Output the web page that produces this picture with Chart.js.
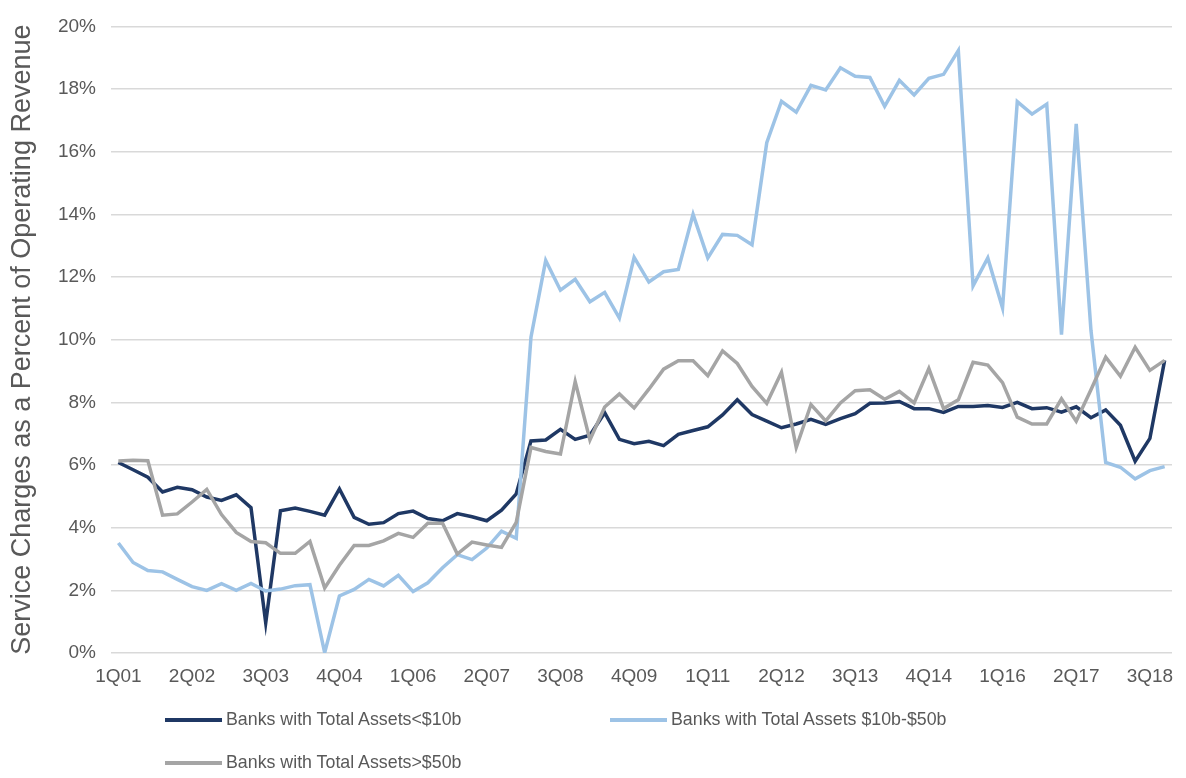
<!DOCTYPE html>
<html>
<head>
<meta charset="utf-8">
<script src="https://cdn.jsdelivr.net/npm/chart.js@4/dist/chart.umd.min.js"></script>
<style>
  html, body { margin: 0; padding: 0; background: #fff; }
  #wrap { position: relative; width: 1186px; height: 778px; }
  #chart { position: absolute; left: 0; top: 0; }
  .lg { position: absolute; display: flex; align-items: center;
        font-family: "Liberation Sans", Arial, sans-serif; font-size: 17.8px; color: #595959; }
  .lg span.sw { display: inline-block; width: 57px; height: 4px; margin-right: 4px; }
</style>
</head>
<body>
<div id="wrap">
  <canvas id="chart" width="1186" height="778"></canvas>
</div>
<script>
// ===== Data =====
const quarters = [
  '1Q01','2Q01','3Q01','4Q01','1Q02','2Q02','3Q02','4Q02','1Q03','2Q03','3Q03','4Q03',
  '1Q04','2Q04','3Q04','4Q04','1Q05','2Q05','3Q05','4Q05','1Q06','2Q06','3Q06','4Q06',
  '1Q07','2Q07','3Q07','4Q07','1Q08','2Q08','3Q08','4Q08','1Q09','2Q09','3Q09','4Q09',
  '1Q10','2Q10','3Q10','4Q10','1Q11','2Q11','3Q11','4Q11','1Q12','2Q12','3Q12','4Q12',
  '1Q13','2Q13','3Q13','4Q13','1Q14','2Q14','3Q14','4Q14','1Q15','2Q15','3Q15','4Q15',
  '1Q16','2Q16','3Q16','4Q16','1Q17','2Q17','3Q17','4Q17','1Q18','2Q18','3Q18','4Q18'
];

const smallBanks = [
  6.08, 5.85, 5.61, 5.14, 5.29, 5.21, 4.98, 4.87, 5.05, 4.64,
  0.96, 4.54, 4.63, 4.52, 4.40, 5.24, 4.33, 4.11, 4.16, 4.45,
  4.53, 4.29, 4.22, 4.45, 4.35, 4.22, 4.56, 5.08, 6.77, 6.80,
  7.14, 6.82, 6.95, 7.67, 6.82, 6.68, 6.76, 6.62, 6.98, 7.10,
  7.22, 7.60, 8.08, 7.61, 7.40, 7.19, 7.31, 7.46, 7.30, 7.48,
  7.64, 7.97, 7.98, 8.03, 7.80, 7.80, 7.68, 7.87, 7.87, 7.90,
  7.84, 8.00, 7.80, 7.83, 7.69, 7.86, 7.51, 7.76, 7.27, 6.12,
  6.85, 9.34
];

const midBanks = [
  3.51, 2.89, 2.63, 2.59, 2.35, 2.12, 2.00, 2.21, 2.00, 2.22,
  1.98, 2.04, 2.15, 2.18, 0.01, 1.82, 2.03, 2.35, 2.14, 2.48,
  1.96, 2.24, 2.72, 3.14, 2.98, 3.35, 3.89, 3.66, 10.08, 12.53,
  11.58, 11.93, 11.21, 11.51, 10.69, 12.63, 11.84, 12.17, 12.24, 14.00,
  12.61, 13.36, 13.33, 13.03, 16.29, 17.61, 17.26, 18.12, 17.97, 18.68,
  18.41, 18.37, 17.45, 18.28, 17.81, 18.34, 18.47, 19.23, 11.72, 12.61,
  11.01, 17.60, 17.20, 17.52, 10.16, 16.89, 10.30, 6.08, 5.93, 5.56,
  5.82, 5.95
];

const largeBanks = [
  6.13, 6.15, 6.14, 4.40, 4.44, 4.82, 5.22, 4.42, 3.85, 3.56,
  3.52, 3.18, 3.18, 3.56, 2.08, 2.80, 3.43, 3.43, 3.58, 3.82,
  3.69, 4.14, 4.14, 3.16, 3.54, 3.45, 3.37, 4.17, 6.56, 6.43,
  6.35, 8.66, 6.80, 7.85, 8.27, 7.82, 8.42, 9.06, 9.33, 9.33,
  8.85, 9.64, 9.24, 8.51, 7.97, 8.96, 6.56, 7.93, 7.41, 7.98,
  8.37, 8.40, 8.10, 8.35, 7.98, 9.08, 7.80, 8.08, 9.28, 9.19,
  8.63, 7.53, 7.31, 7.31, 8.11, 7.40, 8.40, 9.44, 8.83, 9.76,
  9.02, 9.34
];

const seriesNames = [
  'Banks with Total Assets<$10b',
  'Banks with Total Assets $10b-$50b',
  'Banks with Total Assets>$50b'
];
const seriesColors = ['#1F3864', '#9DC3E6', '#A5A5A5'];

const yTicks = [0, 2, 4, 6, 8, 10, 12, 14, 16, 18, 20];
const tickEvery = 5;

// ===== Chart =====
const FONT = '"Liberation Sans", Arial, sans-serif';
const TEXT = '#595959';

const datasets = [smallBanks, midBanks, largeBanks].map((vals, i) => ({
  label: seriesNames[i],
  data: vals,
  borderColor: seriesColors[i],
  backgroundColor: seriesColors[i],
  borderWidth: 3.5,
  pointRadius: 0,
  tension: 0,
  fill: false,
  order: 3 - i
}));

const chart = new Chart(document.getElementById('chart'), {
  type: 'line',
  data: { labels: quarters, datasets },
  options: {
    responsive: false,
    animation: false,
    layout: { padding: { left: 0, right: 14, top: 19, bottom: 85 } },
    plugins: { legend: { display: false }, tooltip: { enabled: false } },
    scales: {
      x: {
        offset: true,
        grid: { display: false, drawTicks: false },
        border: { display: false },
        ticks: {
          autoSkip: false,
          maxRotation: 0,
          padding: 12,
          color: TEXT,
          font: { family: FONT, size: 19 },
          callback: (v, i) => (i % tickEvery === 0 ? quarters[i] : '')
        },
        afterFit: (s) => { s.height = 40; }
      },
      y: {
        min: yTicks[0],
        max: yTicks[yTicks.length - 1],
        afterBuildTicks: (s) => { s.ticks = yTicks.map((v) => ({ value: v })); },
        grid: { color: '#D9D9D9', lineWidth: 1.5, drawTicks: false },
        border: { display: false },
        ticks: {
          padding: 15,
          color: TEXT,
          font: { family: FONT, size: 19 },
          callback: (v) => v + '%'
        },
        title: {
          display: true,
          text: 'Service Charges as a Percent of Operating Revenue',
          color: TEXT,
          font: { family: FONT, size: 27 },
          padding: { top: 6, bottom: 0 }
        },
        afterFit: (s) => { s.width = 111; }
      }
    }
  }
});

// ===== Legend (HTML) =====
const legendSpots = [
  { left: 165, top: 720 },
  { left: 610, top: 720 },
  { left: 165, top: 763 }
];
const wrap = document.getElementById('wrap');
chart.data.datasets.forEach((ds, i) => {
  const item = document.createElement('div');
  item.className = 'lg';
  item.style.left = legendSpots[i].left + 'px';
  item.style.top = (legendSpots[i].top - 11) + 'px';
  item.innerHTML = `<span class="sw" style="background:${ds.borderColor}"></span>${ds.label}`;
  wrap.appendChild(item);
});
</script>
</body>
</html>
